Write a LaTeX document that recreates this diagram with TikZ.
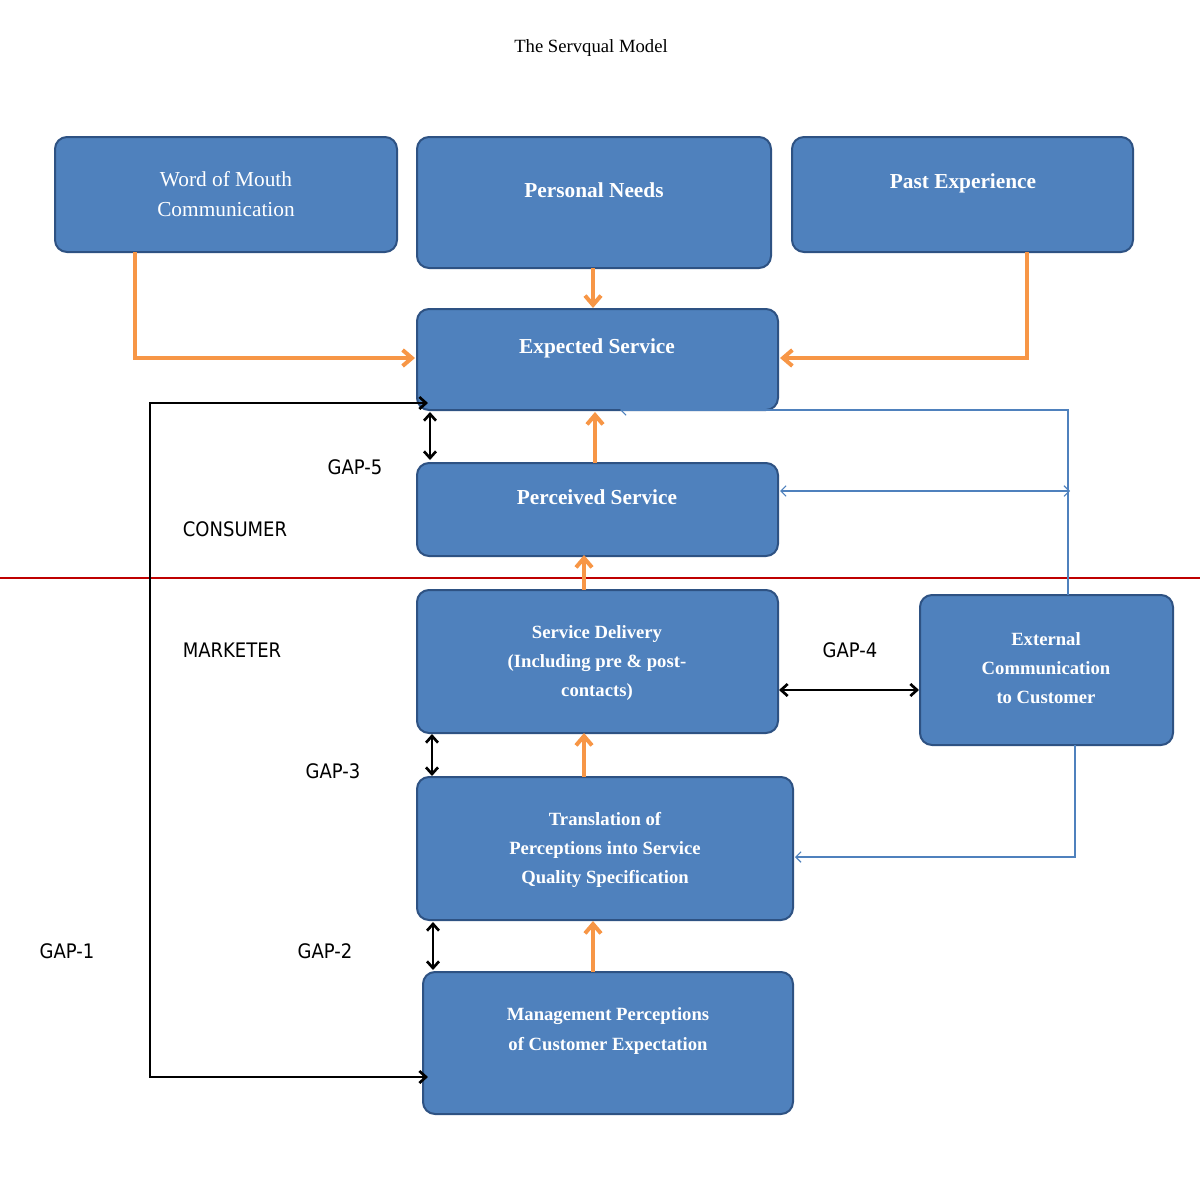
\documentclass[tikz,border=0pt]{standalone}
\usepackage{fontspec}
\setmainfont{Liberation Serif}
\newfontfamily\gapfont{DejaVu Sans Condensed}
\usetikzlibrary{arrows.meta}
\definecolor{bfill}{HTML}{4F81BD}
\definecolor{bdraw}{HTML}{2E5283}
\definecolor{orng}{HTML}{F79646}
\definecolor{thinb}{HTML}{4F81BD}
\begin{document}
\begin{tikzpicture}[x=0.75pt,y=-0.75pt,
 box/.style={draw=bdraw,line width=1.5pt,fill=bfill,rounded corners=9pt,text=white,align=center,font=\fontsize{16}{22}\selectfont\bfseries},
 oa/.style={draw=orng,line width=3pt,-{Straight Barb[length=7pt,width=12pt]}},
 ka/.style={line width=2pt,{Straight Barb[length=5pt,width=9pt]}-{Straight Barb[length=5pt,width=9pt]}},
 ta/.style={draw=thinb,line width=0.8pt},
 gl/.style={font=\gapfont\fontsize{15}{18}\selectfont}]
\useasboundingbox (0,0) rectangle (1200,1178);
\node at (591,48) {\fontsize{14}{16}\selectfont The Servqual Model};
\path[box] (55,137) rectangle (397,252);
\node[box,draw=none,fill=none,font=\fontsize{16}{22}\selectfont] (wom) at (226,194) {Word of Mouth\\Communication};
\path[box] (417,137) rectangle (771,268);
\node[box,draw=none,fill=none] (pn) at (594,190) {Personal Needs};
\path[box] (792,137) rectangle (1133,252);
\node[box,draw=none,fill=none] (pe) at (963,183) {Past Experience};
\path[box] (417,309) rectangle (778,410);
\node[box,draw=none,fill=none] (es) at (597,348) {Expected Service};
\path[box] (417,463) rectangle (778,556);
\node[box,draw=none,fill=none] (ps) at (597,497) {Perceived Service};
\path[box] (417,590) rectangle (778,733);
\node[box,draw=none,fill=none,font=\fontsize{14}{22}\selectfont\bfseries] (sd) at (597,663) {Service Delivery\\(Including pre \& post-\\contacts)};
\path[box] (920,595) rectangle (1173,745);
\node[box,draw=none,fill=none,font=\fontsize{14}{22}\selectfont\bfseries] (ec) at (1046,668) {External\\Communication\\to Customer};
\path[box] (417,777) rectangle (793,920);
\node[box,draw=none,fill=none,font=\fontsize{14}{22}\selectfont\bfseries] (tr) at (605,850) {Translation of\\Perceptions into Service\\Quality Specification};
\path[box] (423,972) rectangle (793,1114);
\node[box,draw=none,fill=none,font=\fontsize{14}{22}\selectfont\bfseries] (mp) at (608,1031) {Management Perceptions\\of Customer Expectation};
\draw[red!75!black,line width=1.5pt] (0,578) -- (1200,578);
% orange
\coordinate (w1) at (135,252); \coordinate (w2) at (135,358); \coordinate (w3) at (415,358);
\draw[oa] (w1) -- (w2) -- (w3);
\coordinate (p1) at (1027,252); \coordinate (p2) at (1027,358); \coordinate (p3) at (780,358);
\draw[oa] (p1) -- (p2) -- (p3);
\draw[oa] (593,268) -- (593,308);
\draw[oa] (595,463) -- (595,412);
\draw[oa] (584,590) -- (584,555);
\draw[oa] (584,777) -- (584,733);
\draw[oa] (593,972) -- (593,921);
% black
\coordinate (g1) at (428,1077); \coordinate (g2) at (150,1077); \coordinate (g3) at (150,403); \coordinate (g4) at (428,403);
\draw[ka,rounded corners=0] (g1) -- (g2) -- (g3) -- (g4);
\draw[ka] (430,412) -- (430,460);
\draw[ka] (432,734) -- (432,776);
\draw[ka] (433,922) -- (433,970);
\draw[ka] (779,690) -- (919,690);
% thin blue
\draw[ta,{Straight Barb[length=4pt,width=8pt]}-] (620,410) -- (1068,410) -- (1068,595);
\draw[ta,{Straight Barb[length=4pt,width=8pt]}-{Straight Barb[length=4pt,width=8pt]}] (780,491) -- (1070,491);
\draw[ta,-{Straight Barb[length=4pt,width=8pt]}] (1075,745) -- (1075,857) -- (795,857);
% labels
\node[gl] at (355,467) {GAP-5};
\node[gl] at (235,529) {CONSUMER};
\node[gl] at (232,650) {MARKETER};
\node[gl] at (850,650) {GAP-4};
\node[gl] at (333,771) {GAP-3};
\node[gl] at (325,951) {GAP-2};
\node[gl] at (67,951) {GAP-1};
\end{tikzpicture}
\end{document}
